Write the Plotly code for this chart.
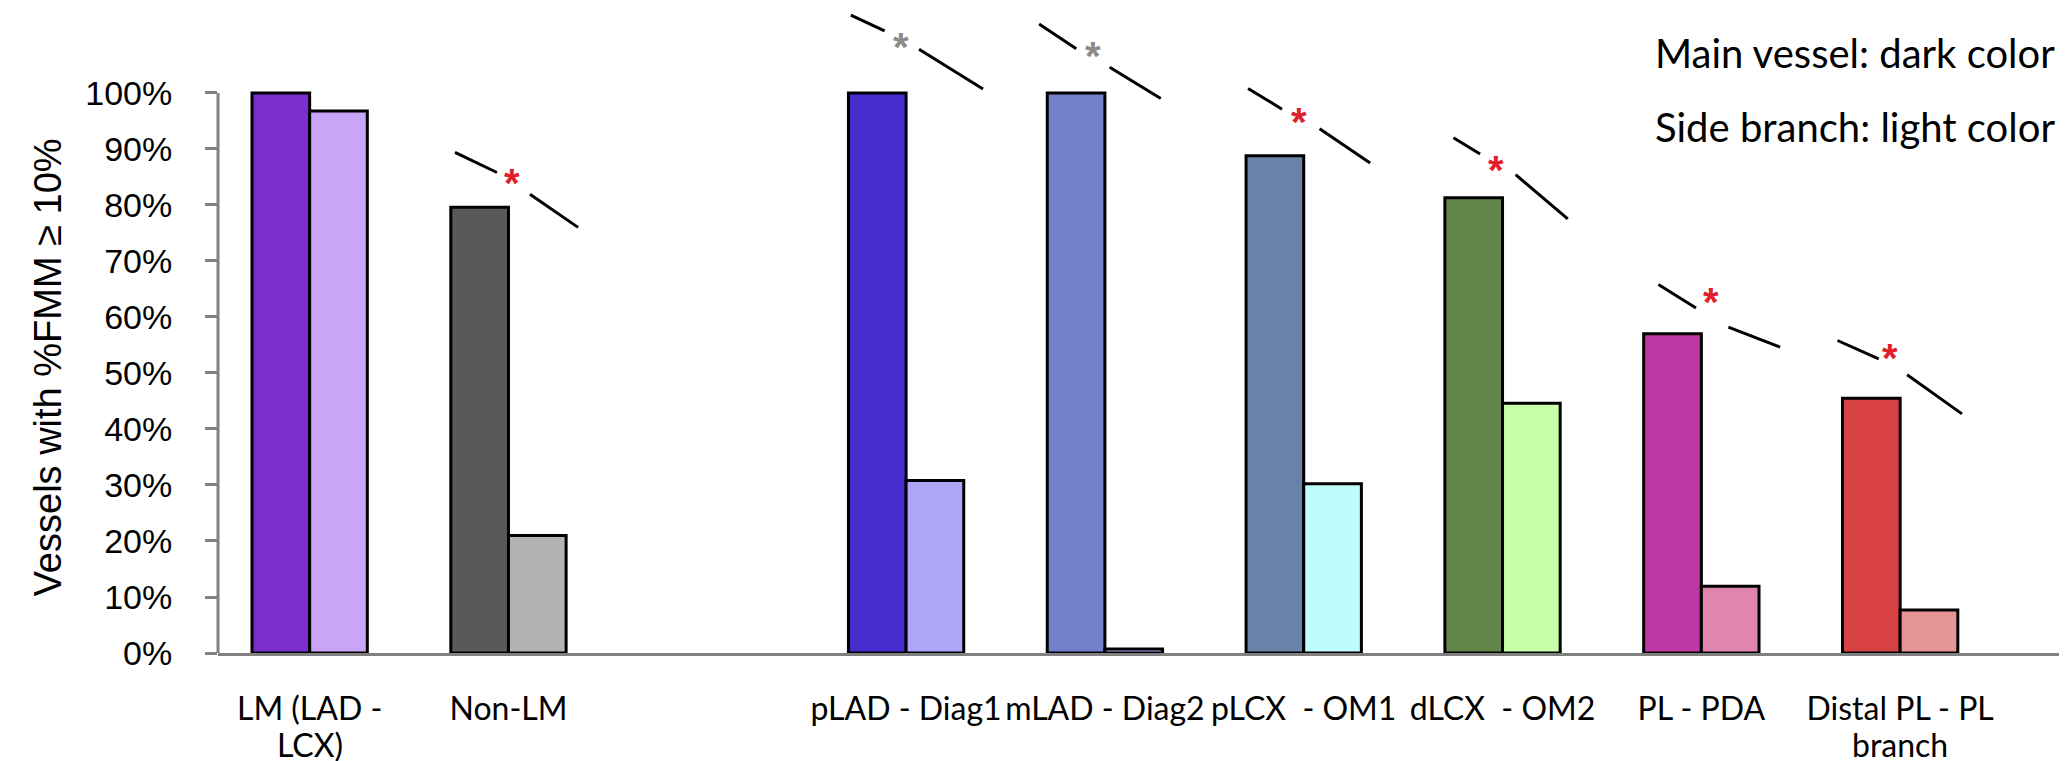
import plotly.graph_objects as go

# ---- data ----
labels_line1 = ["LM (LAD -", "Non-LM", "pLAD - Diag1", "mLAD - Diag2",
                "pLCX  - OM1", "dLCX  - OM2", "PL - PDA", "Distal PL - PL"]
labels_line2 = ["LCX)", "", "", "", "", "", "", "branch"]
slots = [0, 1, 3, 4, 5, 6, 7, 8]          # category slots (slot 2 left empty)
main_values = [100, 79.6, 100, 100, 88.8, 81.3, 57.0, 45.5]
side_values = [96.8, 21.0, 30.8, 0.7, 30.2, 44.6, 11.9, 7.7]
main_colors = ["#7A2ECC", "#595959", "#442DCC", "#7480CC",
               "#6882A8", "#62864A", "#BE38A3", "#D94245"]
side_colors = ["#C9A5F8", "#B3B3B3", "#ADA6F8", "#A9B4F0",
               "#BDFDFB", "#C6FEA9", "#E085AE", "#E59497"]
y_ticks = list(range(0, 101, 10))
y_ticklabels = [f"{v}%" for v in y_ticks]

# significance marks: (group index, asterisk colour,
#   left seg dx0,dy0,dx1,dy1, asterisk dx,dy, right seg dx0,dy0,dx1,dy1)
# dx relative to category centre, dy relative to main bar value
sig_marks = [
    (1, "#E0202A", -0.269, 9.8, -0.058, 6.2, 0.018, 6.0, 0.108, 2.3, 0.350, -3.6),
    (2, "#8A8A8A", -0.278, 13.9, -0.108, 11.1, -0.027, 9.9, 0.065, 7.8, 0.387, 0.7),
    (3, "#8A8A8A", -0.331, 12.3, -0.144, 7.9, -0.060, 8.2, 0.024, 4.6, 0.281, -1.0),
    (4, "#E0202A", -0.280, 12.0, -0.109, 8.3, -0.025, 7.7, 0.080, 4.8, 0.334, -1.3),
    (5, "#E0202A", -0.247, 10.7, -0.113, 7.8, -0.034, 6.6, 0.066, 4.1, 0.328, -3.8),
    (6, "#E0202A", -0.216, 8.8, -0.027, 4.6, 0.049, 7.3, 0.136, 1.2, 0.396, -2.4),
    (7, "#E0202A", -0.315, 10.3, -0.108, 7.0, -0.049, 8.8, 0.035, 4.2, 0.311, -2.8),
]

legend_lines = ["Main vessel: dark color", "Side branch: light color"]
legend_px = [45, 119]

# ---- figure ----
W, H = 2067, 761
mt, mb, ml, mr = 0, 116, 210, 14
ph = H - mt - mb

fig = go.Figure()
fig.add_trace(go.Bar(x=slots, y=main_values, name="Main vessel",
                     marker=dict(color=main_colors, line=dict(color="black", width=3))))
fig.add_trace(go.Bar(x=slots, y=side_values, name="Side branch",
                     marker=dict(color=side_colors, line=dict(color="black", width=3))))

shapes = []
annotations = []
# y axis line from 0 to 100 %
shapes.append(dict(type="line", xref="paper", yref="y", x0=0, x1=0, y0=0, y1=100,
                   line=dict(color="#808080", width=3), layer="above"))

for (gi, acol, lx0, ly0, lx1, ly1, ax, ay, rx0, ry0, rx1, ry1) in sig_marks:
    cx = slots[gi]
    base = main_values[gi]
    for (a, b, c, d) in [(lx0, ly0, lx1, ly1), (rx0, ry0, rx1, ry1)]:
        shapes.append(dict(type="line", xref="x", yref="y",
                           x0=cx + a, y0=base + b, x1=cx + c, y1=base + d,
                           line=dict(color="black", width=3)))
    annotations.append(dict(x=cx + ax, y=base + ay, xref="x", yref="y", text="<b>*</b>",
                            showarrow=False, yanchor="middle", yshift=-9,
                            font=dict(family="Liberation Sans", size=40, color=acol)))

for t, py in zip(legend_lines, legend_px):
    annotations.append(dict(x=1, xref="paper", y=1 - (py - mt) / ph, yref="paper", text=t,
                            showarrow=False, xanchor="right", yanchor="middle", xshift=-4,
                            font=dict(family="Lato", size=40, color="black")))

# second lines of the two-line category labels
for sx, t in zip(slots, labels_line2):
    if t:
        annotations.append(dict(x=sx, xref="x", y=0, yref="paper", yanchor="middle",
                                yshift=-91, text=t, showarrow=False,
                                font=dict(family="Lato", size=32, color="black")))

# y axis title
annotations.append(dict(x=0, xref="paper", xanchor="center", xshift=-170,
                        y=51, yref="y", yanchor="middle", textangle=-90,
                        text="Vessels with %FMM ≥ 10%", showarrow=False,
                        font=dict(family="Liberation Sans", size=38, color="black")))

fig.update_layout(
    width=W, height=H,
    margin=dict(l=ml, r=mr, t=mt, b=mb, autoexpand=False),
    paper_bgcolor="white", plot_bgcolor="white",
    barmode="group", bargap=0.42, bargroupgap=0,
    showlegend=False,
    shapes=shapes, annotations=annotations,
    xaxis=dict(range=[-0.461, 8.809], tickmode="array", tickvals=slots, ticktext=labels_line1,
               showline=True, linecolor="#808080", linewidth=3, ticks="",
               showgrid=False, zeroline=False, ticklabelstandoff=26, automargin=False,
               tickfont=dict(family="Lato", size=32, color="black")),
    yaxis=dict(range=[0, 115.17], tickmode="array", tickvals=y_ticks, ticktext=y_ticklabels,
               showline=False, ticks="outside", ticklen=12, tickwidth=3, tickcolor="#808080",
               showgrid=False, zeroline=False, ticklabelstandoff=26, automargin=False,
               tickfont=dict(family="Liberation Sans", size=34, color="black")),
)

fig.write_html("out.html")
